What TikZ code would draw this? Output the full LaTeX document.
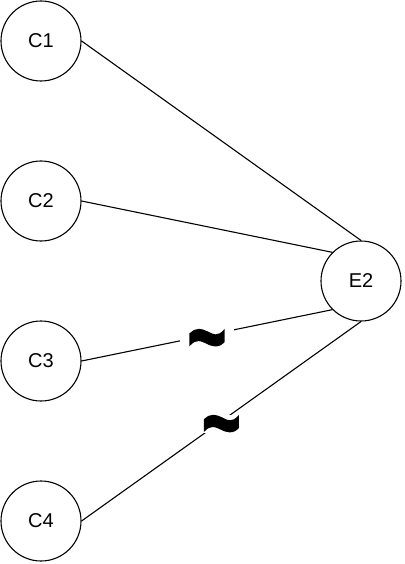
\documentclass[tikz,border=0pt]{standalone}
\usepackage{fontspec}
\setmainfont{Liberation Sans}
\newfontfamily\tildefont[FakeBold=2.5]{Liberation Sans Bold}
\begin{document}
\begin{tikzpicture}[x=1pt,y=-1pt,
  vertex/.style={draw, circle, line width=1.1pt, minimum size=80pt, inner sep=0pt, font=\fontsize{20}{24}\selectfont},
  conn/.style={line width=1.1pt},
  tilde/.style={fill=white, inner sep=0pt, minimum width=54pt, text height=9pt, text depth=9pt,
    font=\fontsize{66}{66}\tildefont}]
\useasboundingbox (0,0) rectangle (404,564);
\node[vertex] (c1) at (41,41) {C1};
\node[vertex] (c2) at (41,201) {C2};
\node[vertex] (c3) at (41,361) {C3};
\node[vertex] (c4) at (41,521) {C4};
\node[vertex] (e2) at (361,281) {E2};
\draw[conn] (c1.east) -- (e2.north);
\draw[conn] (c2.east) -- (e2.north west);
\draw[conn] (c3.east) -- node[tilde, yshift=-3pt] (t1) {\raisebox{-31pt}{\smash{\scalebox{1}[1.45]{\textasciitilde}}}} (e2.south west);
\draw[conn] (c4.east) -- node[tilde, yshift=-3pt] (t2) {\raisebox{-31pt}{\smash{\scalebox{1}[1.45]{\textasciitilde}}}} (e2.south);
\end{tikzpicture}
\end{document}
